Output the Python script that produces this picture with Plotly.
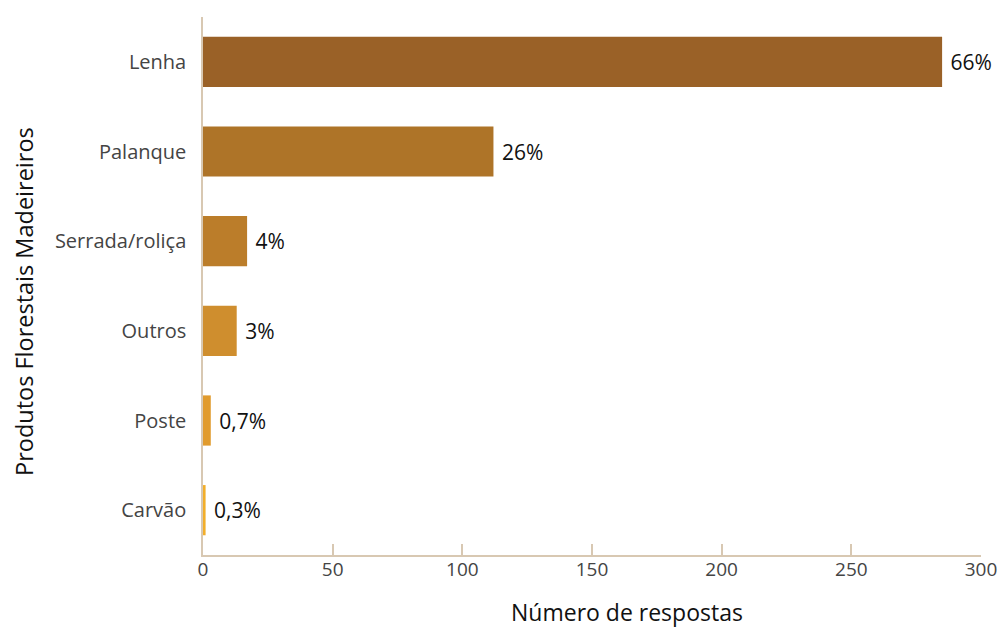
import plotly.graph_objects as go

# Produtos florestais madeireiros: número de respostas por produto
categorias = ["Lenha", "Palanque", "Serrada/roliça", "Outros", "Poste", "Carvão"]
respostas = [285, 112, 17, 13, 3, 1]
percentuais = ["66%", "26%", "4%", "3%", "0,7%", "0,3%"]
cores = ["#9a6127", "#ae7428", "#bb7d2a", "#cf8e2e", "#e19b2d", "#f2ae2a"]
x_ticks = [0, 50, 100, 150, 200, 250, 300]

eixo_cor = "#d8c8b2"
fonte = "Open Sans, Noto Sans, sans-serif"

# plot area in pixels, used to place the axis titles
L, R, T, B = 203, 19, 17, 73
W, H = 1000, 628
pw, ph = W - L - R, H - T - B


def px_x(x):
    return (x - L) / pw


def px_y(y):
    return (H - B - y) / ph


fig = go.Figure(
    go.Bar(
        y=categorias,
        x=respostas,
        orientation="h",
        marker=dict(color=cores, line=dict(width=0)),
        width=0.56,
        text=[" " + p for p in percentuais],
        textposition="outside",
        constraintext="none",
        textfont=dict(family=fonte, size=21, color="#111111"),
        cliponaxis=False,
        hoverinfo="skip",
    )
)

fig.update_layout(
    width=W,
    height=H,
    margin=dict(l=L, r=R, t=T, b=B, autoexpand=False),
    plot_bgcolor="white",
    paper_bgcolor="white",
    showlegend=False,
    font=dict(family=fonte, color="#444444"),
    xaxis=dict(
        range=[0, 300],
        tickvals=x_ticks,
        ticktext=[str(v) for v in x_ticks],
        automargin=False,
        showgrid=False,
        zeroline=False,
        showline=True,
        linecolor=eixo_cor,
        linewidth=1.5,
        ticks="inside",
        tickcolor=eixo_cor,
        ticklen=11,
        tickwidth=1.5,
        ticklabelstandoff=-4,
        tickfont=dict(size=19, color="#444444"),
    ),
    yaxis=dict(
        categoryorder="array",
        categoryarray=categorias[::-1],
        range=[-0.5, 5.5],
        automargin=False,
        showgrid=False,
        zeroline=False,
        showline=True,
        linecolor=eixo_cor,
        linewidth=1.5,
        ticks="",
        ticklabelstandoff=11,
        tickfont=dict(size=20, color="#444444"),
    ),
    annotations=[
        dict(
            text="Número de respostas",
            xref="paper", yref="paper",
            x=px_x(627), y=px_y(612),
            xanchor="center", yanchor="middle",
            showarrow=False,
            font=dict(family=fonte, size=23, color="#111111"),
        ),
        dict(
            text="Produtos Florestais Madeireiros",
            xref="paper", yref="paper",
            x=px_x(24), y=px_y(302),
            xanchor="center", yanchor="middle",
            textangle=-90,
            showarrow=False,
            font=dict(family=fonte, size=23.5, color="#111111"),
        ),
    ],
)

fig.write_html("out.html")
